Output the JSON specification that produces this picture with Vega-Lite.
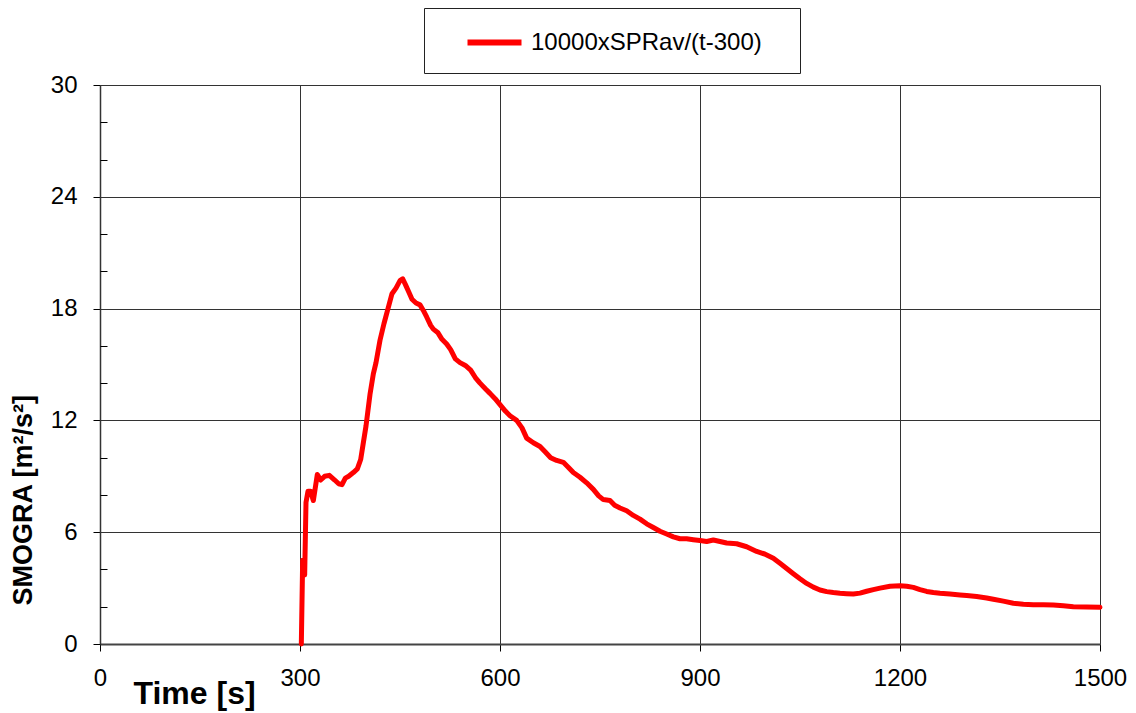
{
  "$schema": "https://vega.github.io/schema/vega-lite/v6.json",
  "autosize": {"type": "none"},
  "padding": {"left": 100, "top": 85, "right": 36, "bottom": 69},
  "width": 1000,
  "height": 559,
  "background": "white",
  "config": {
    "font": "Liberation Sans",
    "view": {"stroke": null},
    "axis": {"labelFont": "Liberation Sans", "titleFont": "Liberation Sans", "labelColor": "black", "titleColor": "black"}
  },
  "data": {"values": [
    {"t": 302, "v": 0}, {"t": 304, "v": 4.5}, {"t": 306, "v": 4.4}, {"t": 307, "v": 3.7}, {"t": 309, "v": 7.6},
    {"t": 312, "v": 8.2}, {"t": 316, "v": 8.2}, {"t": 320, "v": 7.7}, {"t": 326, "v": 9.1}, {"t": 331, "v": 8.8},
    {"t": 337, "v": 9.0}, {"t": 344, "v": 9.05}, {"t": 352, "v": 8.8}, {"t": 358, "v": 8.6}, {"t": 363, "v": 8.55},
    {"t": 368, "v": 8.9}, {"t": 373, "v": 9.0}, {"t": 380, "v": 9.2}, {"t": 386, "v": 9.4}, {"t": 391, "v": 9.9},
    {"t": 395, "v": 10.8}, {"t": 399, "v": 11.7}, {"t": 405, "v": 13.4}, {"t": 410, "v": 14.5}, {"t": 414, "v": 15.1},
    {"t": 420, "v": 16.3}, {"t": 426, "v": 17.2}, {"t": 432, "v": 18.0}, {"t": 438, "v": 18.8}, {"t": 444, "v": 19.1},
    {"t": 450, "v": 19.5}, {"t": 454, "v": 19.6}, {"t": 458, "v": 19.3}, {"t": 463, "v": 18.9}, {"t": 468, "v": 18.5},
    {"t": 474, "v": 18.3}, {"t": 480, "v": 18.2}, {"t": 485, "v": 17.9}, {"t": 490, "v": 17.55}, {"t": 496, "v": 17.1},
    {"t": 500, "v": 16.9}, {"t": 507, "v": 16.7}, {"t": 513, "v": 16.35}, {"t": 520, "v": 16.1}, {"t": 526, "v": 15.8},
    {"t": 533, "v": 15.3}, {"t": 540, "v": 15.1}, {"t": 548, "v": 14.95}, {"t": 556, "v": 14.7}, {"t": 563, "v": 14.3},
    {"t": 570, "v": 14.0}, {"t": 578, "v": 13.7}, {"t": 585, "v": 13.45}, {"t": 593, "v": 13.15}, {"t": 600, "v": 12.85},
    {"t": 608, "v": 12.5}, {"t": 615, "v": 12.25}, {"t": 625, "v": 12.0}, {"t": 633, "v": 11.6}, {"t": 640, "v": 11.05},
    {"t": 650, "v": 10.8}, {"t": 660, "v": 10.6}, {"t": 668, "v": 10.3}, {"t": 676, "v": 10.0}, {"t": 685, "v": 9.85},
    {"t": 695, "v": 9.75}, {"t": 702, "v": 9.5}, {"t": 710, "v": 9.2}, {"t": 720, "v": 8.95}, {"t": 730, "v": 8.65},
    {"t": 740, "v": 8.3}, {"t": 748, "v": 7.95}, {"t": 755, "v": 7.75}, {"t": 765, "v": 7.7}, {"t": 772, "v": 7.45},
    {"t": 780, "v": 7.3}, {"t": 790, "v": 7.15}, {"t": 800, "v": 6.9}, {"t": 810, "v": 6.7}, {"t": 820, "v": 6.45},
    {"t": 830, "v": 6.25}, {"t": 840, "v": 6.05}, {"t": 850, "v": 5.9}, {"t": 860, "v": 5.75}, {"t": 870, "v": 5.65},
    {"t": 880, "v": 5.65}, {"t": 890, "v": 5.6}, {"t": 900, "v": 5.55}, {"t": 910, "v": 5.5}, {"t": 920, "v": 5.58},
    {"t": 930, "v": 5.5}, {"t": 940, "v": 5.42}, {"t": 955, "v": 5.38}, {"t": 970, "v": 5.22}, {"t": 985, "v": 4.97},
    {"t": 997, "v": 4.83}, {"t": 1010, "v": 4.6}, {"t": 1020, "v": 4.33}, {"t": 1030, "v": 4.05}, {"t": 1040, "v": 3.77},
    {"t": 1050, "v": 3.5}, {"t": 1060, "v": 3.25}, {"t": 1070, "v": 3.05}, {"t": 1080, "v": 2.9}, {"t": 1090, "v": 2.81},
    {"t": 1100, "v": 2.76}, {"t": 1110, "v": 2.72}, {"t": 1120, "v": 2.7}, {"t": 1130, "v": 2.68}, {"t": 1140, "v": 2.73},
    {"t": 1150, "v": 2.83}, {"t": 1160, "v": 2.92}, {"t": 1170, "v": 3.0}, {"t": 1185, "v": 3.1}, {"t": 1200, "v": 3.13},
    {"t": 1210, "v": 3.1}, {"t": 1220, "v": 3.04}, {"t": 1230, "v": 2.92}, {"t": 1240, "v": 2.82}, {"t": 1250, "v": 2.76},
    {"t": 1260, "v": 2.72}, {"t": 1275, "v": 2.68}, {"t": 1290, "v": 2.63}, {"t": 1300, "v": 2.6}, {"t": 1315, "v": 2.55},
    {"t": 1330, "v": 2.47}, {"t": 1340, "v": 2.4}, {"t": 1355, "v": 2.3}, {"t": 1370, "v": 2.19}, {"t": 1385, "v": 2.13},
    {"t": 1400, "v": 2.1}, {"t": 1415, "v": 2.1}, {"t": 1430, "v": 2.09}, {"t": 1445, "v": 2.05}, {"t": 1460, "v": 2.0},
    {"t": 1480, "v": 1.99}, {"t": 1500, "v": 1.97}
  ]},
  "transform": [{"calculate": "'10000xSPRav/(t-300)'", "as": "series"}],
  "layer": [
    {
      "mark": {"type": "line", "strokeWidth": 5, "strokeJoin": "round", "strokeCap": "round"},
      "encoding": {
        "x": {
          "field": "t", "type": "quantitative",
          "scale": {"domain": [0, 1500], "nice": false, "zero": false},
          "axis": {
            "values": [0, 300, 600, 900, 1200, 1500], "format": "d",
            "grid": true, "gridColor": "#333", "gridWidth": 1,
            "domainColor": "#444", "domainWidth": 2,
            "tickColor": "black", "tickSize": 7, "tickWidth": 1,
            "labelFontSize": 24, "labelBaseline": "alphabetic", "labelPadding": 34, "labelFlush": false,
            "title": "Time [s]", "titleFontSize": 32, "titleFontWeight": "bold",
            "titleAnchor": "start", "titleAlign": "left", "titleBaseline": "alphabetic",
            "titleX": 33, "titleY": 59
          }
        },
        "y": {
          "field": "v", "type": "quantitative",
          "scale": {"domain": [0, 30], "nice": false},
          "axis": {
            "values": [0, 6, 12, 18, 24, 30],
            "grid": true, "gridColor": "#333", "gridWidth": 1,
            "domainColor": "#333", "domainWidth": 1.5,
            "tickColor": "black", "tickSize": 7, "tickWidth": 1,
            "labelFontSize": 24, "labelPadding": 16, "labelBaseline": "middle", "labelFlush": false,
            "title": "SMOGRA [m²/s²]", "titleFontSize": 27, "titleFontWeight": "bold",
            "titleAngle": -90, "titleAlign": "left", "titleBaseline": "alphabetic",
            "titleX": -69, "titleY": 520
          }
        },
        "color": {
          "field": "series", "type": "nominal",
          "scale": {"range": ["#ff0000"]},
          "legend": {
            "title": "\u00a0", "titleOrient": "right", "titlePadding": 20, "titleFontSize": 24,
            "orient": "none", "legendX": 324, "legendY": -77,
            "strokeColor": "#222", "padding": 18, "fillColor": "white",
            "symbolType": "M-2,0H2", "symbolSize": 729, "symbolStrokeWidth": 6, "symbolFillColor": "transparent",
            "symbolOffset": 36, "labelOffset": 20,
            "labelFontSize": 24, "labelFont": "Liberation Sans", "labelColor": "black", "labelLimit": 400
          }
        }
      }
    },
    {
      "mark": {"type": "line", "strokeOpacity": 0},
      "encoding": {
        "x": {"field": "t", "type": "quantitative"},
        "y": {
          "field": "v", "type": "quantitative",
          "axis": {
            "orient": "left", "values": [2, 4, 8, 10, 14, 16, 20, 22, 26, 28],
            "labels": false, "domain": false, "grid": false, "title": null,
            "tickColor": "black", "tickSize": -7, "tickWidth": 1
          }
        }
      }
    }
  ],
  "resolve": {"axis": {"y": "independent"}}
}
